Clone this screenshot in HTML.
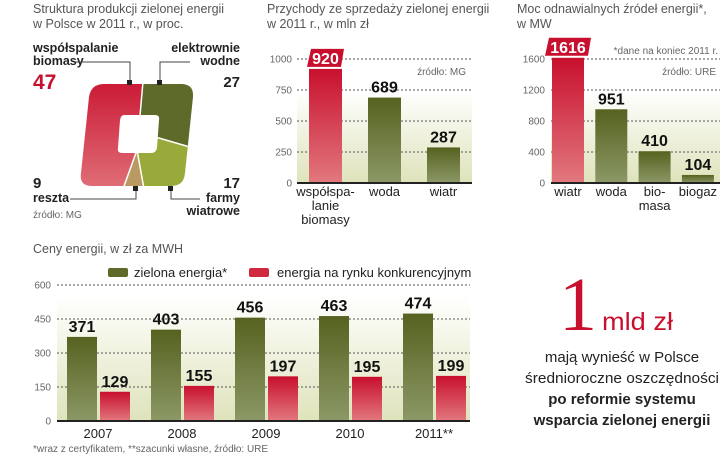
<!DOCTYPE html>
<html><head><meta charset="utf-8">
<style>
html,body{margin:0;padding:0;background:#fff;}
svg{display:block;font-family:"Liberation Sans Narrow","Liberation Sans",sans-serif;}
.t{fill:#555;font-size:12.5px;}
.tk{fill:#666;font-size:10px;}
.b{font-weight:bold;fill:#222;}
.v{font-weight:bold;fill:#111;font-size:16px;}
.cat{fill:#222;font-size:13px;}
</style></head>
<body>
<svg id="root" width="720" height="455" viewBox="0 0 720 455">
<defs>
<linearGradient id="gR" x1="0" y1="0" x2="0" y2="1"><stop offset="0" stop-color="#c8102e"/><stop offset="1" stop-color="#e2787e"/></linearGradient>
<linearGradient id="gG" x1="0" y1="0" x2="0" y2="1"><stop offset="0" stop-color="#56621f"/><stop offset="1" stop-color="#8c9866"/></linearGradient>
<linearGradient id="gBg" x1="0" y1="0" x2="0" y2="1"><stop offset="0" stop-color="#ffffff"/><stop offset="1" stop-color="#dfe3bb"/></linearGradient>
<clipPath id="pieClip"><path d="M112,84 L181,84 Q194,84 193,97 L185,173 Q184,186 171,186 L92,186 Q79,186 81,173 L89,97 Q91,84 104,84 Z"/></clipPath>
</defs>

<g>
<text class="t" x="33" y="13">Struktura produkcji zielonej energii</text>
<text class="t" x="33" y="28">w Polsce w 2011 r., w proc.</text>
<g clip-path="url(#pieClip)">
<polygon points="60,70 144,70 137,150 119,200 60,200" fill="url(#gR)"/>
<polygon points="137,150 119,200 146,200" fill="#b89a62"/>
<polygon points="137,150 146,200 200,200 200,150 152,136" fill="#9aaa3a"/>
<polygon points="144,70 200,70 200,150 152,136 137,150" fill="#5e6a2a"/>
<polyline points="144,70 137,150 119,200" fill="none" stroke="#fff" stroke-width="1.5"/>
<polyline points="137,150 146,200" fill="none" stroke="#fff" stroke-width="1.5"/>
<polyline points="152,136 200,150" fill="none" stroke="#fff" stroke-width="1.5"/>
</g>
<path d="M124,115 L155,115 Q160,115 159,120 L157,148 Q156,153 151,153 L122,153 Q117,153 118,148 L120,120 Q121,115 124,115 Z" fill="#fff"/>
<g font-size="12.5">
<text class="b" x="33" y="52">współspalanie</text>
<text class="b" x="33" y="65">biomasy</text>
<text x="33" y="89" font-size="21" font-weight="bold" fill="#c8102e">47</text>
<text class="b" x="240" y="52" text-anchor="end">elektrownie</text>
<text class="b" x="240" y="65" text-anchor="end">wodne</text>
<text class="b" x="240" y="87" font-size="15" text-anchor="end">27</text>
<text class="b" x="33" y="188" font-size="15">9</text>
<text class="b" x="33" y="202">reszta</text>
<text class="b" x="240" y="188" font-size="15" text-anchor="end">17</text>
<text class="b" x="240" y="202" text-anchor="end">farmy</text>
<text class="b" x="240" y="215" text-anchor="end">wiatrowe</text>
</g>
<text class="tk" x="33" y="218" font-size="9.5">źródło: MG</text>
<g fill="none" stroke="#444" stroke-width="1">
<polyline points="75,62 130,62 130,82"/>
<polyline points="190,62 160,62 160,82"/>
<polyline points="70,199 136,199 136,188"/>
<polyline points="171,188 171,199 200,199"/>
</g>
<g fill="#222"><rect x="127" y="80" width="5" height="5"/><rect x="157" y="80" width="5" height="5"/><rect x="133" y="186" width="5" height="5"/><rect x="168" y="186" width="5" height="5"/></g>
</g>

<g id="rev">
<text class="t" x="267" y="13">Przychody ze sprzedaży zielonej energii</text>
<text class="t" x="267" y="28">w 2011 r., w mln zł</text>
<rect x="297" y="90" width="175" height="93" fill="url(#gBg)"/>
<text class="tk" x="466" y="75" text-anchor="end">źródło: MG</text>
</g>
<g id="cap">
<text class="t" x="517" y="13">Moc odnawialnych źródeł energii*,</text>
<text class="t" x="517" y="28">w MW</text>
<rect x="551" y="90" width="169" height="93" fill="url(#gBg)"/>
<text class="tk" x="718" y="54" text-anchor="end">*dane na koniec 2011 r.</text>
<text class="tk" x="716" y="75" text-anchor="end">źródło: URE</text>
</g>
<g id="price">
<text class="t" x="33" y="253">Ceny energii, w zł za MWH</text>
<rect x="57" y="295" width="413" height="126" fill="url(#gBg)"/>
<rect x="108" y="268" width="20" height="9" rx="2" fill="#5e6a2a"/>
<text class="cat" x="134" y="277">zielona energia*</text>
<rect x="249" y="268" width="20" height="9" rx="2" fill="#d0283e"/>
<text class="cat" x="277" y="277">energia na rynku konkurencyjnym</text>
<text class="tk" x="33" y="452" font-size="9.5">*wraz z certyfikatem, **szacunki własne, źródło: URE</text>
</g>

<g>
<text x="578" y="330" text-anchor="middle" font-family="Liberation Serif,serif" font-size="76" fill="#c8102e">1</text>
<text x="602" y="330" font-family="Liberation Sans,sans-serif" font-size="25" fill="#c8102e" textLength="71" lengthAdjust="spacingAndGlyphs">mld zł</text>
<g font-size="15" text-anchor="middle" fill="#222">
<text x="622" y="362">mają wynieść w Polsce</text>
<text x="622" y="383" textLength="194" lengthAdjust="spacingAndGlyphs">średnioroczne oszczędności</text>
<text x="622" y="404" font-weight="bold">po reformie systemu</text>
<text x="622" y="425" font-weight="bold">wsparcia zielonej energii</text>
</g>
</g>
</svg>
<script>
const NS='http://www.w3.org/2000/svg';
const revCats=['współspa-|lanie|biomasy','woda','wiatr'];
const revVals=[920,689,287];
const revTicks=[0,250,500,750,1000];
const capCats=['wiatr','woda','bio-|masa','biogaz'];
const capVals=[1616,951,410,104];
const capTicks=[0,400,800,1200,1600];
const years=['2007','2008','2009','2010','2011**'];
const greenVals=[371,403,456,463,474];
const redVals=[129,155,197,195,199];
const priceTicks=[0,150,300,450,600];

function mk(tag,attrs,parent,txt){const e=document.createElementNS(NS,tag);for(const k in attrs)e.setAttribute(k,attrs[k]);if(txt!==undefined)e.textContent=txt;parent.appendChild(e);return e;}

function barChart(g,cats,vals,ticks,o){
  const y=v=>o.y0-v*o.k;
  ticks.forEach(t=>{
    const tl=mk('text',{x:o.tx,y:y(t)+3.5,'text-anchor':'end',class:'tk'},g,t);
    
    
    if(t>0){const l=mk('line',{x1:o.x0,x2:o.x1,y1:y(t),y2:y(t),stroke:'#555','stroke-dasharray':'2,2','stroke-width':1},g);
    
    }
  });
  vals.forEach((v,i)=>{
    const bx=o.bx+i*o.step;
    const r=mk('rect',{x:bx,y:y(v),width:o.bw,height:v*o.k,fill:i===0?'url(#gR)':'url(#gG)'},g);
    
    
    const cx=bx+o.bw/2;
    if(i===0){
      const w=String(v).length*9+8;
      mk('path',{d:`M${cx-w/2+3},${y(v)-20} L${cx+w/2+1},${y(v)-20} L${cx+w/2-2},${y(v)-2} L${cx-w/2-1},${y(v)-2} Z`,fill:'#c8102e'},g);
      const lt=mk('text',{x:cx,y:y(v)-5,'text-anchor':'middle',class:'v',style:'fill:#fff'},g,v);
      
      
    } else {
      const lt=mk('text',{x:cx,y:y(v)-5,'text-anchor':'middle',class:'v'},g,v);
      
      
    }
    cats[i].split('|').forEach((s,j)=>{
      const c=mk('text',{x:cx,y:o.y0+13+j*14,'text-anchor':'middle',class:'cat'},g,s);
      
      
    });
  });
  mk('line',{x1:o.x0,x2:o.x1,y1:o.y0,y2:o.y0,stroke:'#222','stroke-width':2},g);
}
barChart(document.getElementById('rev'),revCats,revVals,revTicks,{y0:183,k:0.124,x0:297,x1:472,tx:292,bx:309,bw:33,step:59});
barChart(document.getElementById('cap'),capCats,capVals,capTicks,{y0:183,k:124/1600,x0:551,x1:720,tx:545,bx:552,bw:32,step:43.3});

(function(){
  const g=document.getElementById('price');
  const k=136/600,y0=421,y=v=>y0-v*k;
  priceTicks.forEach(t=>{
    const tl=mk('text',{x:51,y:y(t)+3.5,'text-anchor':'end',class:'tk'},g,t);
    
    
    if(t>0){const l=mk('line',{x1:57,x2:470,y1:y(t),y2:y(t),stroke:'#555','stroke-dasharray':'2,2'},g);
    
    }
  });
  years.forEach((yr,i)=>{
    const gx=67+i*84, rx=gx+33;
    const b1=mk('rect',{x:gx,y:y(greenVals[i]),width:30,height:greenVals[i]*k,fill:'url(#gG)'},g);
    
    
    const b2=mk('rect',{x:rx,y:y(redVals[i]),width:30,height:redVals[i]*k,fill:'url(#gR)'},g);
    
    
    const l1=mk('text',{x:gx+15,y:y(greenVals[i])-5,'text-anchor':'middle',class:'v'},g,greenVals[i]);
    
    
    const l2=mk('text',{x:rx+15,y:y(redVals[i])-5,'text-anchor':'middle',class:'v'},g,redVals[i]);
    
    
    const c=mk('text',{x:gx+31,y:438,'text-anchor':'middle',class:'cat','font-size':'14'},g,yr);
    
    
  });
  mk('line',{x1:57,x2:470,y1:y0,y2:y0,stroke:'#222','stroke-width':2},g);
})();
</script>
</body></html>
